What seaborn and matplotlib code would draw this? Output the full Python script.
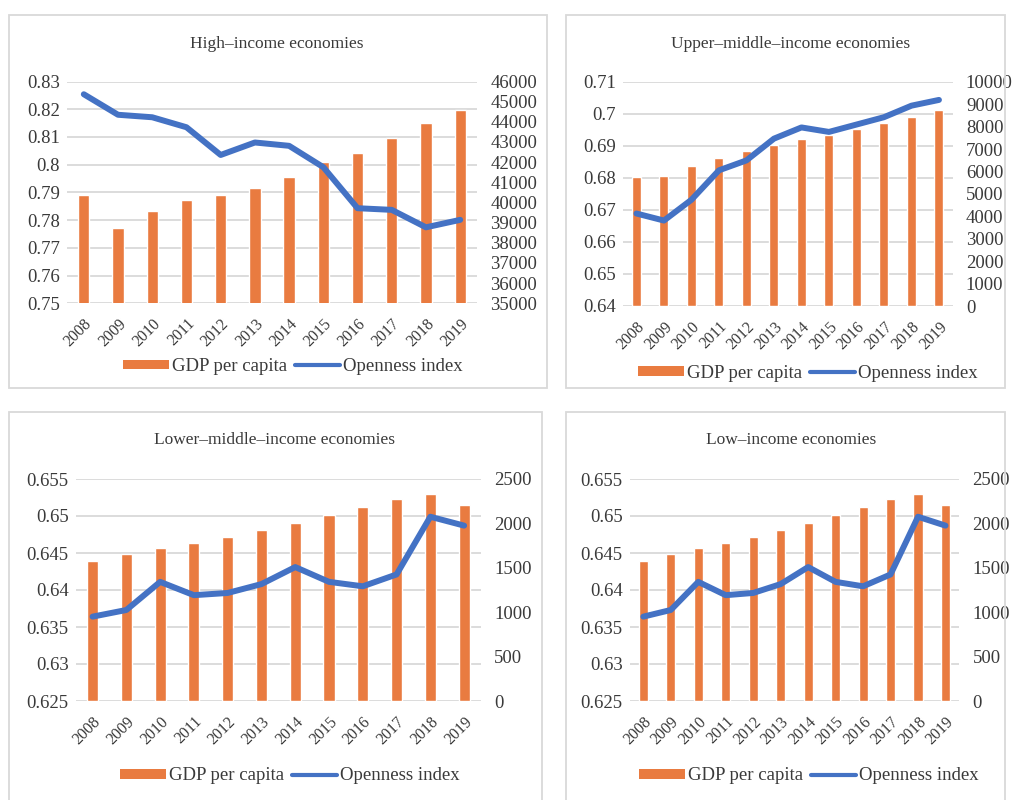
import pandas as pd
import seaborn as sns
import matplotlib
matplotlib.use('Agg')
import matplotlib.pyplot as plt
from matplotlib.patches import Rectangle, Patch
from matplotlib.lines import Line2D

sns.set_style('white')
plt.rcParams['font.family'] = ['Liberation Serif', 'DejaVu Serif']

# ---- data ----
years = ['2008', '2009', '2010', '2011', '2012', '2013',
         '2014', '2015', '2016', '2017', '2018', '2019']

# High-income economies
open_high = [0.8254, 0.8180, 0.8171, 0.8135, 0.8035, 0.8080,
             0.8068, 0.7991, 0.7843, 0.7837, 0.7774, 0.7801]
gdp_high = [40350, 38730, 39580, 40120, 40380, 40720,
            41270, 41990, 42430, 43180, 43950, 44610]
open_ticks_high = [0.75, 0.76, 0.77, 0.78, 0.79, 0.80, 0.81, 0.82, 0.83]
open_labels_high = ['0.75', '0.76', '0.77', '0.78', '0.79', '0.8', '0.81', '0.82', '0.83']
gdp_ticks_high = [35000, 36000, 37000, 38000, 39000, 40000,
                  41000, 42000, 43000, 44000, 45000, 46000]

# Upper-middle-income economies
open_um = [0.6689, 0.6667, 0.6732, 0.6824, 0.6855, 0.6923,
           0.6958, 0.6944, 0.6967, 0.6990, 0.7026, 0.7044]
gdp_um = [5760, 5810, 6230, 6600, 6920, 7200,
          7470, 7650, 7880, 8180, 8450, 8760]
open_ticks_um = [0.64, 0.65, 0.66, 0.67, 0.68, 0.69, 0.70, 0.71]
open_labels_um = ['0.64', '0.65', '0.66', '0.67', '0.68', '0.69', '0.7', '0.71']
gdp_ticks_um = [0, 1000, 2000, 3000, 4000, 5000, 6000, 7000, 8000, 9000, 10000]

# Lower-middle-income economies
open_lm = [0.6364, 0.6373, 0.6411, 0.6393, 0.6396, 0.6408,
           0.6431, 0.6411, 0.6405, 0.6421, 0.6499, 0.6487]
gdp_lm = [1577, 1659, 1719, 1779, 1851, 1926,
          2008, 2095, 2181, 2279, 2331, 2207]

# Low-income economies (same figures as printed in the source)
open_low = [0.6364, 0.6373, 0.6411, 0.6393, 0.6396, 0.6408,
            0.6431, 0.6411, 0.6405, 0.6421, 0.6499, 0.6487]
gdp_low = [1577, 1659, 1719, 1779, 1851, 1926,
           2008, 2095, 2181, 2279, 2331, 2207]

open_ticks_lo = [0.625, 0.630, 0.635, 0.640, 0.645, 0.650, 0.655]
open_labels_lo = ['0.625', '0.63', '0.635', '0.64', '0.645', '0.65', '0.655']
gdp_ticks_lo = [0, 500, 1000, 1500, 2000, 2500]

ORANGE = '#E97B40'
BLUE = '#4472C4'
TXT = '#3a3a3a'
GRID = '#d9d9d9'

W, H = 1013, 800
fig = plt.figure(figsize=(W / 100, H / 100), dpi=100)


def px_rect(x0, y0, x1, y1):
    return [x0 / W, 1 - y1 / H, (x1 - x0) / W, (y1 - y0) / H]


def panel(box, frame, title, title_xy, leg_xy, openness, gdp,
          o_ticks, o_labels, g_ticks):
    df = pd.DataFrame({'year': years, 'gdp': gdp, 'open': openness})

    fig.add_artist(Rectangle((frame[0] / W, 1 - frame[3] / H),
                             (frame[2] - frame[0]) / W, (frame[3] - frame[1]) / H,
                             transform=fig.transFigure, fill=False,
                             ec=GRID, lw=1.3))

    ax = fig.add_axes(px_rect(*box))    # grid + left labels
    axb = ax.twinx()                     # bars, right labels
    axl = ax.twinx()                     # line on top

    sns.barplot(data=df, x='year', y='gdp', ax=axb, color=ORANGE,
                saturation=1, width=0.33, errorbar=None)
    sns.pointplot(data=df, x='year', y='open', ax=axl, color=BLUE,
                  errorbar=None, markers='', linewidth=4.3,
                  solid_joinstyle='round', solid_capstyle='round')

    for a in (ax, axb, axl):
        a.set_xlabel('')
        a.set_ylabel('')
        for s in a.spines.values():
            s.set_visible(False)

    ax.set_ylim(o_ticks[0], o_ticks[-1])
    axl.set_ylim(o_ticks[0], o_ticks[-1])
    ax.set_yticks(o_ticks, o_labels)
    axb.set_ylim(g_ticks[0], g_ticks[-1])
    axb.set_yticks(g_ticks, [str(g) for g in g_ticks])
    axl.yaxis.set_visible(False)

    ax.grid(axis='y', color=GRID, lw=1.3)
    ax.grid(axis='x', visible=False)
    axb.grid(False)
    axl.grid(False)

    ax.tick_params(axis='y', length=0, pad=5, labelsize=13.5, labelcolor=TXT)
    axb.tick_params(axis='y', length=0, pad=9.5, labelsize=13.5, labelcolor=TXT)
    ax.tick_params(axis='x', length=0, pad=9, labelsize=11.5,
                   labelcolor=TXT, labelrotation=45)
    for t in ax.get_xticklabels():
        t.set_ha('right')
        t.set_rotation_mode('anchor')

    fig.text(title_xy[0] / W, 1 - title_xy[1] / H, title, ha='center',
             va='center', fontsize=12.5, color=TXT)

    handles = [Patch(facecolor=ORANGE, edgecolor='none'),
               Line2D([], [], color=BLUE, lw=3, solid_capstyle='round')]
    fig.legend(handles, ['GDP per capita', 'Openness index'], loc='center',
               bbox_to_anchor=(leg_xy[0] / W, 1 - leg_xy[1] / H), ncol=2,
               frameon=False, fontsize=13.5, handlelength=2.45,
               handleheight=0.4, handletextpad=0.15, columnspacing=0.4,
               labelcolor=TXT)


panel((66.7, 81.5, 477.3, 303.3), (9, 15, 547, 388),
      'High\u2013income economies', (277, 44), (293, 366.5),
      open_high, gdp_high, open_ticks_high, open_labels_high, gdp_ticks_high)

panel((622.7, 82, 952.7, 306), (566, 15, 1005, 388),
      'Upper\u2013middle\u2013income economies', (791, 44), (808, 373),
      open_um, gdp_um, open_ticks_um, open_labels_um, gdp_ticks_um)

panel((75.7, 479, 481, 701), (9, 412, 542, 815),
      'Lower\u2013middle\u2013income economies', (274, 440), (290, 776),
      open_lm, gdp_lm, open_ticks_lo, open_labels_lo, gdp_ticks_lo)

panel((629.6, 479, 959.2, 701), (566, 412, 1005, 815),
      'Low\u2013income economies', (791, 440), (809, 776),
      open_low, gdp_low, open_ticks_lo, open_labels_lo, gdp_ticks_lo)

fig.savefig('out.png', dpi=100)
